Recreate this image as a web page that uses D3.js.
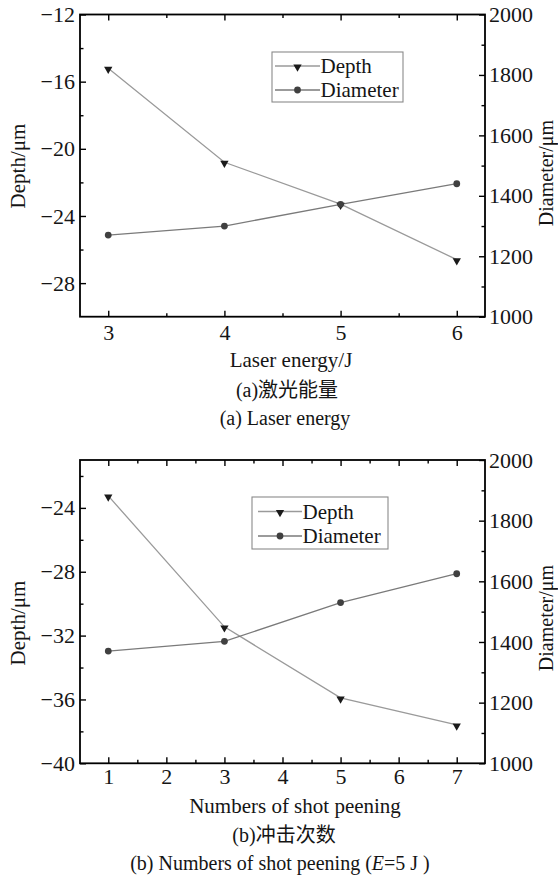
<!DOCTYPE html>
<html><head><meta charset="utf-8">
<script src="https://cdn.jsdelivr.net/npm/d3@7"></script>
<style>
body{margin:0;background:#fff}
svg{display:block}
text{font-family:"Liberation Serif","Times New Roman",serif;fill:#151515}
.cjk{font-family:"Noto Sans CJK SC",sans-serif}
</style>
</head><body>
<svg id="c" width="558" height="879"></svg>
<script>
// ---- data ----
const energy = [3, 4, 5, 6];
const depthA = [-15.2, -20.8, -23.3, -26.6];
const diamA = [1270, 1300, 1372, 1440];

const shots = [1, 3, 5, 7];
const depthB = [-23.25, -31.45, -35.9, -37.6];
const diamB = [1370, 1402, 1530, 1625];

const xTicksA = [3, 4, 5, 6];
const xMinorA = [3.5, 4.5, 5.5];
const xTicksB = [1, 2, 3, 4, 5, 6, 7];
const xMinorB = [1.5, 2.5, 3.5, 4.5, 5.5, 6.5];
const depthTicksA = [-28, -24, -20, -16, -12];
const depthMinorA = [-26, -22, -18, -14];
const depthTicksB = [-40, -36, -32, -28, -24];
const depthMinorB = [-38, -34, -30, -26, -22];
const diamTicks = [1000, 1200, 1400, 1600, 1800, 2000];
const diamMinor = [1100, 1300, 1500, 1700, 1900];
const legendLabels = ["Depth", "Diameter"];

const svg = d3.select("#c");

function panel(o) {
  const x = d3.scaleLinear().domain(o.xDomain).range([o.left, o.right]);
  const yL = d3.scaleLinear().domain(o.yDomain).range([o.bottom, o.top]);
  const yR = d3.scaleLinear().domain([1000, 2000]).range([o.bottom, o.top]);
  const g = svg.append("g");

  // lines
  const lineD = d3.line().x((d, i) => x(o.xs[i])).y(d => yL(d));
  const lineR = d3.line().x((d, i) => x(o.xs[i])).y(d => yR(d));
  g.append("path").attr("d", lineD(o.depth)).attr("fill", "none")
    .attr("stroke", "#9a9a9a").attr("stroke-width", 1.3);
  g.append("path").attr("d", lineR(o.diam)).attr("fill", "none")
    .attr("stroke", "#7a7a7a").attr("stroke-width", 1.3);

  const tri = d3.symbol().type(d3.symbolTriangle).size(30);
  g.selectAll(".tri").data(o.depth).enter().append("path")
    .attr("d", tri)
    .attr("transform", (d, i) => `translate(${x(o.xs[i])},${yL(d) + 1}) rotate(180)`)
    .attr("fill", "#1a1a1a");
  g.selectAll(".dot").data(o.diam).enter().append("circle")
    .attr("cx", (d, i) => x(o.xs[i])).attr("cy", d => yR(d)).attr("r", 3.4)
    .attr("fill", "#404040");

  // axes
  function styleAxis(sel) {
    sel.select(".domain").remove();
    sel.selectAll("line").attr("stroke", "#000").attr("stroke-width", 1.4);
    sel.selectAll("text").attr("font-size", 22).attr("fill", "#151515")
      .style("font-family", '"Liberation Serif","Times New Roman",serif');
  }
  const fmt = v => (v < 0 ? "\u2212" : "") + Math.abs(v);
  g.append("g").attr("transform", `translate(0,${o.bottom})`)
    .call(d3.axisBottom(x).tickValues(o.xTicks).tickFormat(fmt).tickSize(-6).tickPadding(o.xPad))
    .call(styleAxis);
  g.append("g").attr("transform", `translate(0,${o.bottom})`)
    .call(d3.axisBottom(x).tickValues(o.xMinor).tickFormat("").tickSize(-3.5)).call(styleAxis);
  g.append("g").attr("transform", `translate(0,${o.top})`)
    .call(d3.axisTop(x).tickValues(o.xTicks).tickFormat("").tickSize(-6)).call(styleAxis);
  g.append("g").attr("transform", `translate(0,${o.top})`)
    .call(d3.axisTop(x).tickValues(o.xMinor).tickFormat("").tickSize(-3.5)).call(styleAxis);

  g.append("g").attr("transform", `translate(${o.left},0)`)
    .call(d3.axisLeft(yL).tickValues(o.yTicks).tickFormat(fmt).tickSize(-6).tickPadding(5))
    .call(styleAxis);
  g.append("g").attr("transform", `translate(${o.left},0)`)
    .call(d3.axisLeft(yL).tickValues(o.yMinor).tickFormat("").tickSize(-3.5)).call(styleAxis);

  g.append("g").attr("transform", `translate(${o.right},0)`)
    .call(d3.axisRight(yR).tickValues(diamTicks).tickFormat(fmt).tickSize(-6).tickPadding(4))
    .call(styleAxis);
  g.append("g").attr("transform", `translate(${o.right},0)`)
    .call(d3.axisRight(yR).tickValues(diamMinor).tickFormat("").tickSize(-3.5)).call(styleAxis);

  // frame
  g.append("rect").attr("x", o.left).attr("y", o.top)
    .attr("width", o.right - o.left).attr("height", o.bottom - o.top)
    .attr("fill", "none").attr("stroke", "#000").attr("stroke-width", 1.8);

  // axis titles
  g.append("text").attr("transform", `translate(18,${o.lyc}) rotate(-90)`)
    .attr("text-anchor", "middle").attr("dominant-baseline", "central")
    .attr("font-size", 21).text("Depth/μm");
  g.append("text").attr("transform", `translate(546,${o.ryc}) rotate(-90)`)
    .attr("text-anchor", "middle").attr("dominant-baseline", "central")
    .attr("font-size", 20).text("Diameter/μm");
  g.append("text").attr("x", o.titleX).attr("y", o.titleY)
    .attr("text-anchor", "middle").attr("font-size", 21).text(o.title);

  // legend
  const L = o.legend;
  g.append("rect").attr("x", L.x0).attr("y", L.y0).attr("width", L.x1 - L.x0)
    .attr("height", L.y1 - L.y0).attr("fill", "#fff").attr("stroke", "#8a8a8a").attr("stroke-width", 1.1);
  legendLabels.forEach((lab, i) => {
    const yy = L.rows[i];
    g.append("line").attr("x1", L.lx0).attr("x2", L.lx1).attr("y1", yy).attr("y2", yy)
      .attr("stroke", i === 0 ? "#9a9a9a" : "#7a7a7a").attr("stroke-width", 1.3);
    if (i === 0) {
      g.append("path").attr("d", tri)
        .attr("transform", `translate(${(L.lx0 + L.lx1) / 2},${yy + 1}) rotate(180)`)
        .attr("fill", "#1a1a1a");
    } else {
      g.append("circle").attr("cx", (L.lx0 + L.lx1) / 2).attr("cy", yy).attr("r", 3.4).attr("fill", "#404040");
    }
    g.append("text").attr("x", L.lx1 + 0.5).attr("y", yy).attr("dominant-baseline", "central")
      .attr("font-size", 21).text(lab);
  });
}

panel({
  xDomain: [2.757, 6.243], yDomain: [-30, -12],
  left: 80, right: 485, top: 14.5, bottom: 316.7,
  xs: energy, depth: depthA, diam: diamA,
  xTicks: xTicksA, xMinor: xMinorA, yTicks: depthTicksA, yMinor: depthMinorA,
  xPad: 8, lyc: 166, ryc: 173,
  title: "Laser energy/J", titleX: 291, titleY: 366.5,
  legend: {x0: 272, y0: 52, x1: 403, y1: 102, lx0: 275, lx1: 320, rows: [66, 90]}
});
panel({
  xDomain: [0.513, 7.487], yDomain: [-40, -21],
  left: 80, right: 485, top: 460, bottom: 763.3,
  xs: shots, depth: depthB, diam: diamB,
  xTicks: xTicksB, xMinor: xMinorB, yTicks: depthTicksB, yMinor: depthMinorB,
  xPad: 5, lyc: 623, ryc: 618,
  title: "Numbers of shot peening", titleX: 295, titleY: 813,
  legend: {x0: 252, y0: 497, x1: 388, y1: 549, lx0: 258, lx1: 302, rows: [511.5, 536]}
});

// captions
function caption(y, prefix, cjk, x) {
  const t = svg.append("text").attr("x", x).attr("y", y).attr("text-anchor", "middle").attr("font-size", 20);
  t.append("tspan").text(prefix);
  t.append("tspan").attr("class", "cjk").attr("font-size", 20).text(cjk);
}
caption(396.5, "(a)", "激光能量", 287);
caption(841.5, "(b)", "冲击次数", 284);

svg.append("text").attr("x", 285).attr("y", 425).attr("text-anchor", "middle")
  .attr("font-size", 20).text("(a) Laser energy");
const capB = svg.append("text").attr("x", 280).attr("y", 870).attr("text-anchor", "middle").attr("font-size", 20);
capB.append("tspan").text("(b) Numbers of shot peening (");
capB.append("tspan").attr("font-style", "italic").text("E");
capB.append("tspan").text("=5 J )");
</script>
</body></html>
